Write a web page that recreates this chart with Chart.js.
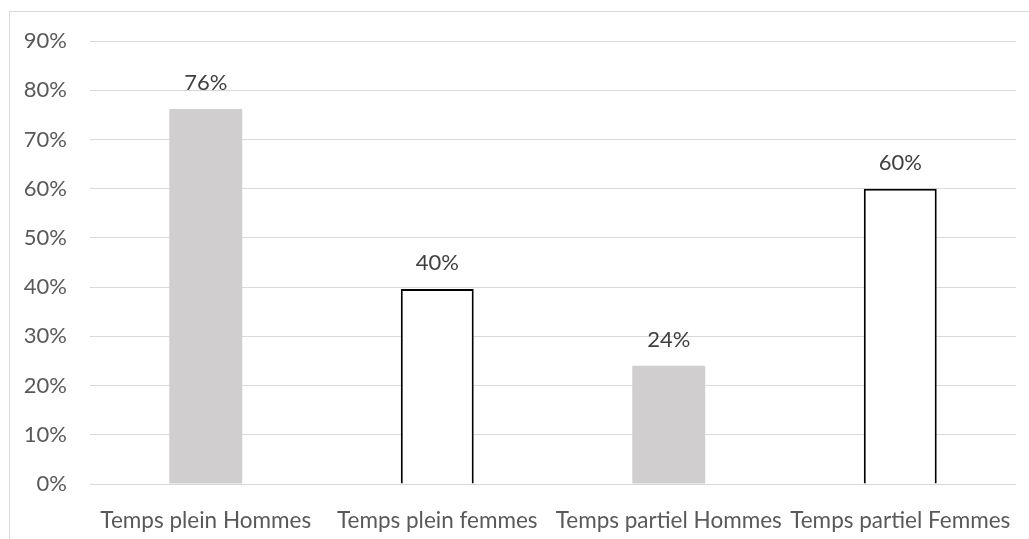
<!DOCTYPE html>
<html>
<head>
<meta charset="utf-8">
<script src="https://cdn.jsdelivr.net/npm/chart.js@4/dist/chart.umd.min.js"></script>
<style>
  html, body { margin: 0; padding: 0; background: #fff; }
  #wrap { position: relative; width: 1029px; height: 539px; overflow: hidden; }
  #frame { position: absolute; left: 9px; top: 11px; width: 1100px; height: 600px;
           border-top: 1px solid #d9d9d9; border-left: 1px solid #d9d9d9; }
  #myChart { position: absolute; left: 0; top: 0; }
</style>
</head>
<body>
<div id="wrap">
  <div id="frame"></div>
  <canvas id="myChart" width="1029" height="539"></canvas>
</div>
<script>
// données
const categories = ['Temps plein Hommes', 'Temps plein femmes', 'Temps partiel Hommes', 'Temps partiel Femmes'];
const values = [76.2, 39.6, 24.0, 60.0];
const yTicks = [0, 10, 20, 30, 40, 50, 60, 70, 80, 90];

const grey = '#d0cece';
const textColor = '#595959';
const fontFamily = 'Lato, "Open Sans", sans-serif';

// étiquettes au-dessus des barres
const barLabels = {
    id: 'barLabels',
    afterDatasetsDraw(chart) {
        const c = chart.ctx;
        const meta = chart.getDatasetMeta(0);
        c.save();
        c.font = '22px ' + fontFamily;
        c.fillStyle = '#404040';
        c.textAlign = 'center';
        c.textBaseline = 'alphabetic';
        meta.data.forEach(function (bar, i) {
            c.fillText(Math.round(values[i]) + '%', bar.x, bar.y - 19);
        });
        c.restore();
    }
};

const ctx = document.querySelector('#myChart').getContext('2d');
const myChart = new Chart(ctx, {
    type: 'bar',
    data: {
        labels: categories,
        datasets: [{
            data: values,
            backgroundColor: function (c) { return c.dataIndex % 2 ? '#ffffff' : grey; },
            borderColor: function (c) { return c.dataIndex % 2 ? '#000000' : grey; },
            borderWidth: function (c) { return c.dataIndex % 2 ? 2 : 0; },
            borderSkipped: 'bottom',
            categoryPercentage: 1,
            barPercentage: 0.315
        }]
    },
    options: {
        responsive: false,
        animation: false,
        layout: { padding: { left: 0, right: 13, top: 41, bottom: 0 } },
        plugins: {
            legend: { display: false },
            tooltip: { enabled: false }
        },
        scales: {
            x: {
                grid: { display: false },
                border: { display: false },
                ticks: {
                    color: textColor,
                    font: { family: fontFamily, size: 22.5 },
                    padding: 15,
                    maxRotation: 0,
                    autoSkip: false
                },
                afterFit: function (axis) { axis.height = 539 - 484; }
            },
            y: {
                min: 0,
                max: 90,
                afterBuildTicks: function (axis) {
                    axis.ticks = yTicks.map(function (v) { return { value: v }; });
                },
                grid: { color: '#d9d9d9', lineWidth: 1, drawTicks: false },
                border: { display: false },
                ticks: {
                    color: textColor,
                    font: { family: fontFamily, size: 22 },
                    padding: 23,
                    callback: function (v) { return v + '%'; }
                },
                afterFit: function (axis) { axis.width = 90; }
            }
        }
    },
    plugins: [barLabels]
});
</script>
</body>
</html>
